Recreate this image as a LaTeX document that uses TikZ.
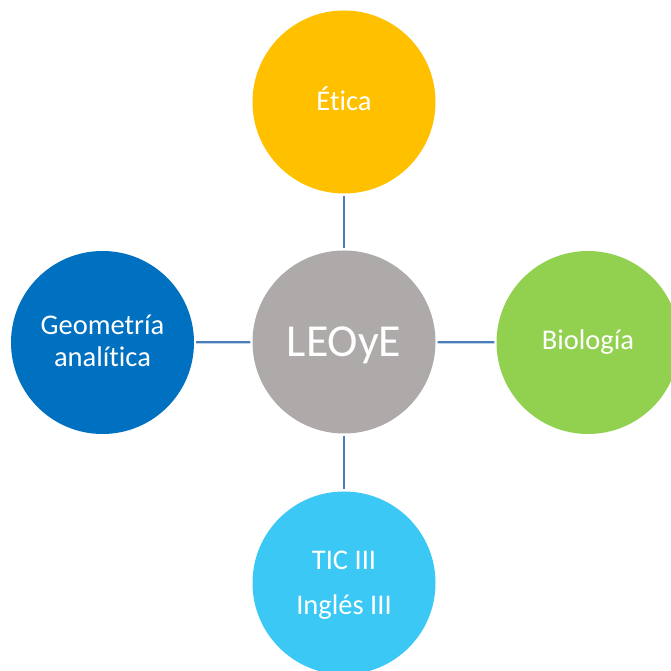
\documentclass[tikz,border=0pt]{standalone}
\usepackage{fontspec}
\setmainfont{Carlito}[Ligatures=NoCommon]
\usepackage{tikz}

\definecolor{eticaorange}{HTML}{FFC000}
\definecolor{centergray}{HTML}{AEAAAA}
\definecolor{geoblue}{HTML}{0070C0}
\definecolor{biogreen}{HTML}{92D050}
\definecolor{ticcyan}{HTML}{3BC8F5}
\definecolor{linkblue}{HTML}{4A7EBB}

\begin{document}
\begin{tikzpicture}[x=1pt,y=1pt,
  bubble/.style={circle,inner sep=0pt,minimum size=183pt,text=white,align=center,
    font=\fontsize{28.5}{31.7}\selectfont},
  link/.style={draw=linkblue,line width=2.3pt,shorten <=2pt,shorten >=2pt}]

\useasboundingbox (0,0) rectangle (670,671);

%% Central subject
\node[bubble,fill=centergray,font=\fontsize{45.8}{50}\selectfont,
  text height=36pt,text depth=6.6pt] (leoye) at (344,329) {LEOyE};

%% Related subjects
\node[bubble,fill=eticaorange,text height=22pt,text depth=5pt] (etica) at (344,569) {Ética};
\node[bubble,fill=geoblue,text height=51.7pt,text depth=4.3pt] (geo) at (102.5,328.5) {Geometría\\analítica};
\node[bubble,fill=biogreen,text height=22pt,text depth=7pt] (bio) at (588,328.5) {Biología};
\node[bubble,fill=ticcyan,text height=70pt,text depth=6pt] (tic) at (344,88) {TIC III\\[13.3pt]Inglés III};

%% Links
\draw[link] (leoye) -- (etica);
\draw[link] (leoye) -- (geo);
\draw[link] (leoye) -- (bio);
\draw[link] (leoye) -- (tic);

\end{tikzpicture}
\end{document}
